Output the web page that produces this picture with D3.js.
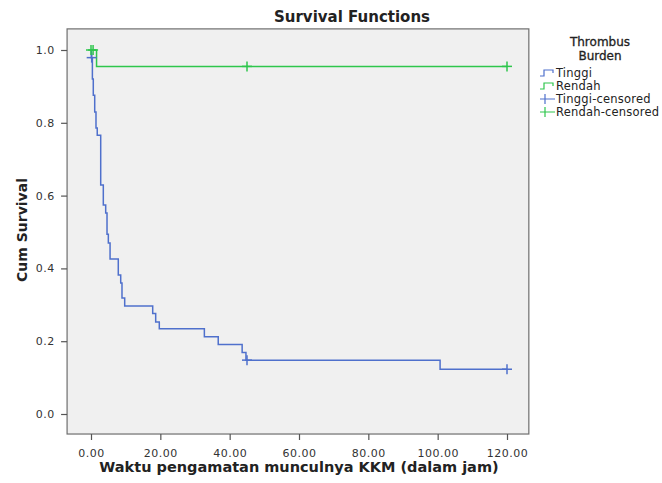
<!DOCTYPE html>
<html>
<head>
<meta charset="utf-8">
<script src="https://cdn.jsdelivr.net/npm/d3@7"></script>
<style>
  body { margin: 0; background: #fff; }
  text { font-family: "DejaVu Sans", sans-serif; fill: #222; }
</style>
</head>
<body>
<div id="chart"></div>
<script>
// Tinggi group: event times and survival after each step
var tinggiTime = [0.1, 0.4, 0.66, 1.07, 1.44, 1.8, 2.8, 3.55, 4.24, 4.62, 5.0, 5.5, 7.87, 8.57, 8.94, 9.72, 17.8, 18.66, 19.7, 32.7, 36.7, 43.6, 44.7, 100.7];
var tinggiSurv = [0.979, 0.92, 0.876, 0.830, 0.786, 0.766, 0.629, 0.574, 0.552, 0.494, 0.470, 0.426, 0.382, 0.360, 0.319, 0.297, 0.276, 0.253, 0.234, 0.212, 0.191, 0.169, 0.148, 0.123];
var tinggiCensored = [0.2, 45, 120];

// Rendah group
var rendahTime = [1.6];
var rendahSurv = [0.955];
var rendahCensored = [0, 0.6, 45, 120];

var xTicks = [0, 20, 40, 60, 80, 100, 120];
var yTicks = [0, 0.2, 0.4, 0.6, 0.8, 1.0];
var xLimits = [-6.9, 126.3];
var yLimits = [-0.055, 1.058];

var groups = [
  {name: 'Tinggi', time: tinggiTime, surv: tinggiSurv, cens: tinggiCensored, color: '#4f70cc'},
  {name: 'Rendah', time: rendahTime, surv: rendahSurv, cens: rendahCensored, color: '#2ec64c'}
];

var W = 662, H = 483;
var x = d3.scaleLinear().domain([0, 120]).range([91, 507]);
var y = d3.scaleLinear().domain([0, 1]).range([414, 50]);

var svg = d3.select('#chart').append('svg')
  .attr('width', W)
  .attr('height', H);

// plot background
svg.append('rect')
  .attr('x', x(xLimits[0]))
  .attr('y', y(yLimits[1]))
  .attr('width', x(xLimits[1]) - x(xLimits[0]))
  .attr('height', y(yLimits[0]) - y(yLimits[1]))
  .attr('fill', '#f0f0f0')
  .attr('stroke', '#6e6e6e')
  .attr('stroke-width', 1.2);

// axes
var xAxis = svg.append('g')
  .attr('transform', 'translate(0,' + y(yLimits[0]) + ')')
  .call(d3.axisBottom(x).tickValues(xTicks).tickFormat(d3.format('.2f')).tickSize(6).tickSizeOuter(0));
var yAxis = svg.append('g')
  .attr('transform', 'translate(' + x(xLimits[0]) + ',0)')
  .call(d3.axisLeft(y).tickValues(yTicks).tickFormat(d3.format('.1f')).tickSize(6).tickSizeOuter(0));
[xAxis, yAxis].forEach(function(a) {
  a.select('.domain').remove();
  a.selectAll('line').attr('stroke', '#555').attr('stroke-width', 1.2);
  a.selectAll('text').style('font-size', '11px').style('fill', '#333').style('letter-spacing', '0.5px');
});
xAxis.selectAll('text').attr('dy', '1.3em');
yAxis.selectAll('text').attr('dx', '-0.3em');

// survival step curves
function stepPoints(g) {
  var pts = [[0, 1]];
  g.time.forEach(function(t, i) { pts.push([t, g.surv[i]]); });
  pts.push([d3.max(g.cens), g.surv[g.surv.length - 1]]);
  return pts;
}
function survAt(g, t) {
  var s = 1;
  g.time.forEach(function(tt, i) { if (tt <= t) s = g.surv[i]; });
  return s;
}
var line = d3.line()
  .x(function(d) { return x(d[0]); })
  .y(function(d) { return y(d[1]); })
  .curve(d3.curveStepAfter);

// draw green first, then blue on top
groups.slice().reverse().forEach(function(g) {
  svg.append('path')
    .datum(stepPoints(g))
    .attr('d', line)
    .attr('fill', 'none')
    .attr('stroke', g.color)
    .attr('stroke-width', 1.5);
});
groups.forEach(function(g) {
  var m = svg.append('g').selectAll('g')
    .data(g.cens)
    .enter().append('g')
    .attr('transform', function(d) { return 'translate(' + x(d) + ',' + y(survAt(g, d)) + ')'; });
  m.append('line').attr('x1', -5).attr('x2', 5).attr('stroke', g.color).attr('stroke-width', 1.5);
  m.append('line').attr('y1', -5).attr('y2', 5).attr('stroke', g.color).attr('stroke-width', 1.5);
});

// titles
svg.append('text')
  .attr('x', 352).attr('y', 22)
  .attr('text-anchor', 'middle')
  .style('font-size', '15px').style('font-weight', 'bold')
  .text('Survival Functions');
svg.append('text')
  .attr('x', 299).attr('y', 472)
  .attr('text-anchor', 'middle')
  .style('font-size', '14.5px').style('font-weight', 'bold')
  .text('Waktu pengamatan munculnya KKM (dalam jam)');
svg.append('text')
  .attr('transform', 'translate(27,230) rotate(-90)')
  .attr('text-anchor', 'middle')
  .style('font-size', '14px').style('font-weight', 'bold')
  .text('Cum Survival');

// legend
var legend = svg.append('g');
legend.append('text').attr('x', 600).attr('y', 46).attr('text-anchor', 'middle')
  .style('font-size', '12px').style('stroke', '#222').style('stroke-width', 0.3).text('Thrombus');
legend.append('text').attr('x', 600).attr('y', 60).attr('text-anchor', 'middle')
  .style('font-size', '12px').style('stroke', '#222').style('stroke-width', 0.3).text('Burden');

var legendItems = [
  {label: 'Tinggi', color: groups[0].color, cens: false},
  {label: 'Rendah', color: groups[1].color, cens: false},
  {label: 'Tinggi-censored', color: groups[0].color, cens: true},
  {label: 'Rendah-censored', color: groups[1].color, cens: true}
];
var li = legend.selectAll('.item')
  .data(legendItems)
  .enter().append('g')
  .attr('class', 'item')
  .attr('transform', function(d, i) { return 'translate(540,' + (73 + i * 13) + ')'; });
li.filter(function(d) { return !d.cens; }).append('path')
  .attr('d', 'M0,3H4V-3H13V0')
  .attr('fill', 'none')
  .attr('stroke', function(d) { return d.color; })
  .attr('stroke-width', 1.2);
li.filter(function(d) { return d.cens; }).append('path')
  .attr('d', 'M0,0H15M5,-5V5')
  .attr('fill', 'none')
  .attr('stroke', function(d) { return d.color; })
  .attr('stroke-width', 1.2);
li.append('text')
  .attr('x', 16).attr('y', 4)
  .style('font-size', '11.5px')
  .style('letter-spacing', '0.2px')
  .text(function(d) { return d.label; });
</script>
</body>
</html>
